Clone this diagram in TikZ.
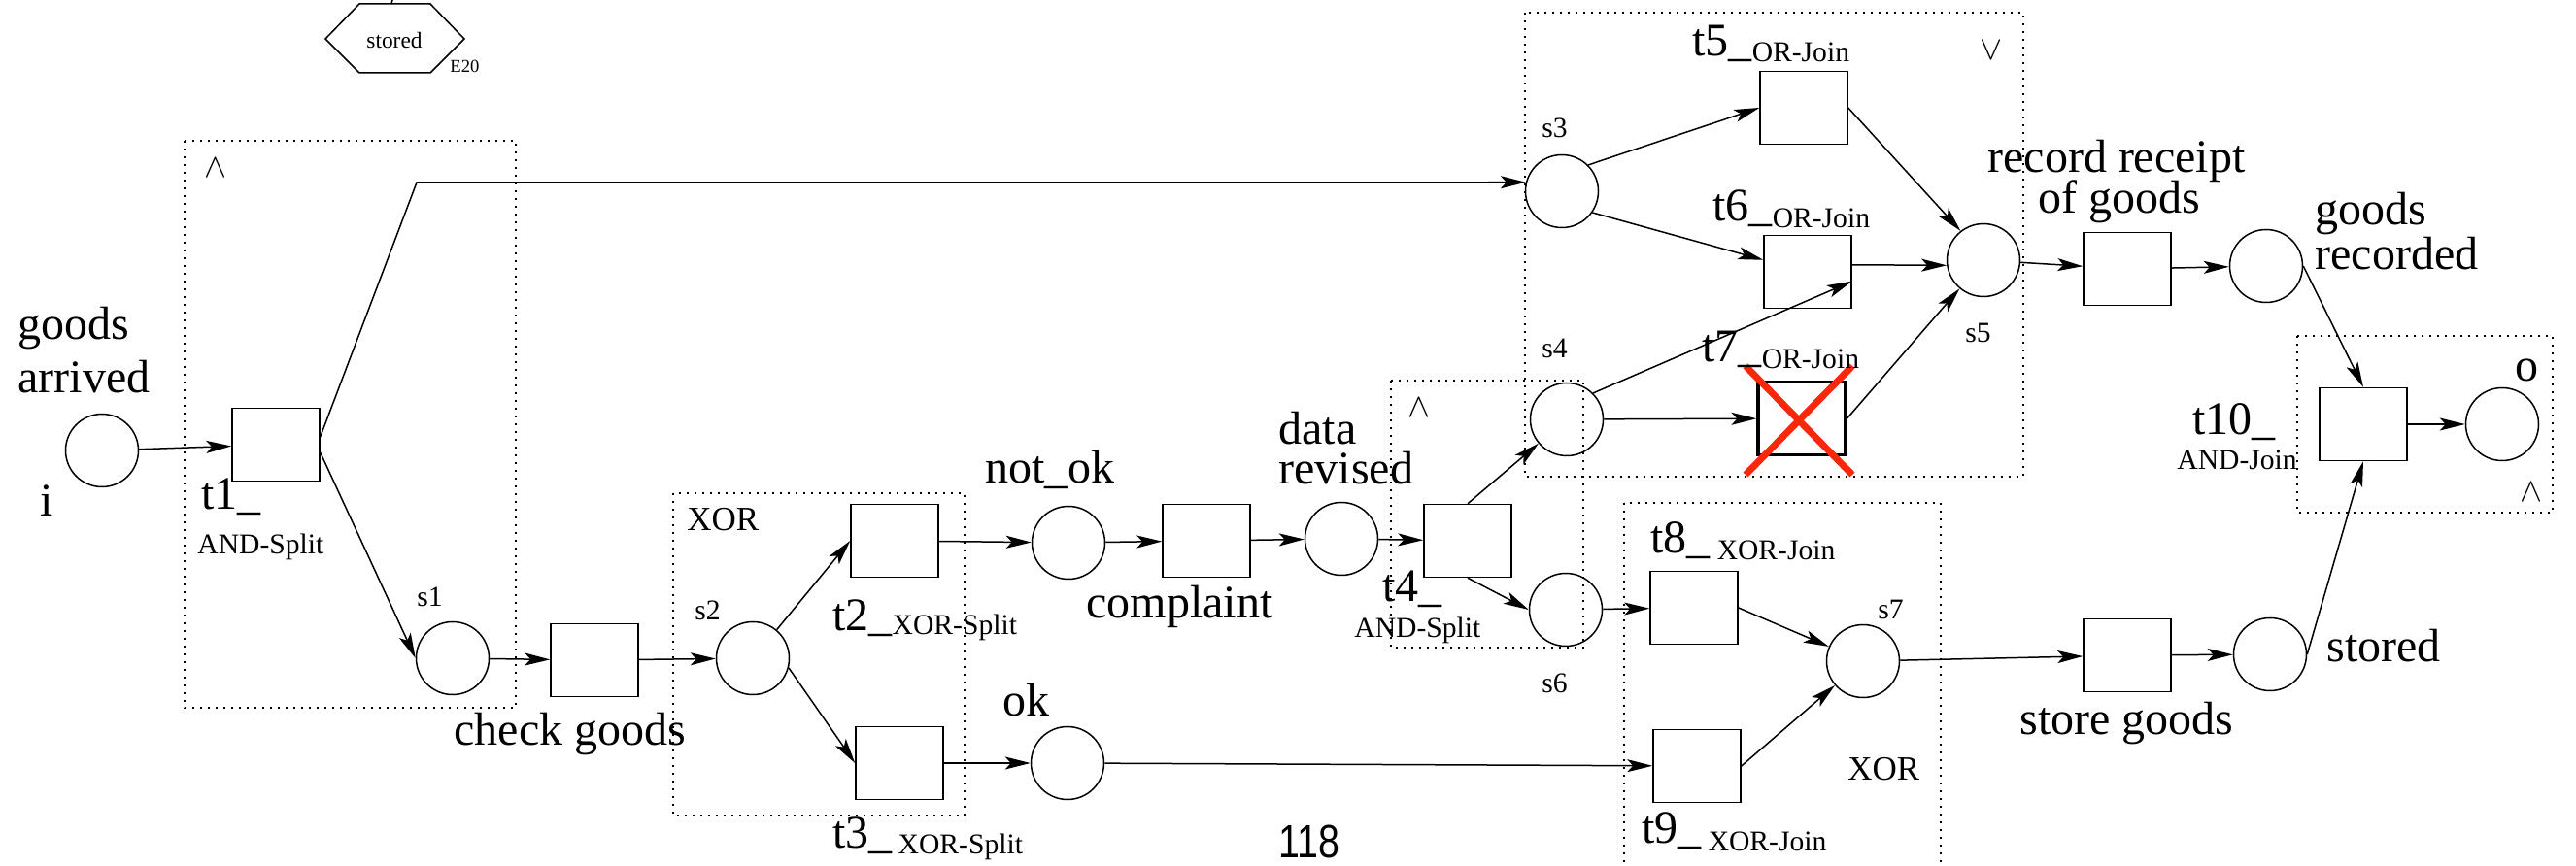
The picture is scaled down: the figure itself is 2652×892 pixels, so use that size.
\documentclass[tikz,border=0pt]{standalone}
\usepackage{fontspec}
\setmainfont{Liberation Serif}
\newfontfamily\pagenumfont{Liberation Sans}
\usetikzlibrary{arrows.meta}
\newcommand\lblsmall{\fontsize{14.8pt}{17pt}\selectfont}
\definecolor{crossred}{RGB}{250,40,10}
\tikzset{
  place/.style={draw, circle, line width=0.75pt, minimum size=37.5pt, inner sep=0pt},
  trans/.style={draw, rectangle, line width=0.75pt, minimum width=45pt, minimum height=37.5pt, inner sep=0pt},
  arc/.style={line width=0.75pt, -{Stealth[length=13pt, width=6.5pt, inset=3pt]}},
  plain/.style={line width=0.75pt},
  region/.style={line width=0.9pt, dash pattern=on 0.9pt off 3.1pt},
  biglbl/.style={font=\fontsize{24pt}{27pt}\selectfont, inner sep=0pt, anchor=base west},
  smalllbl/.style={font=\lblsmall, inner sep=0pt, anchor=base west},
  midlbl/.style={font=\fontsize{17.5pt}{20pt}\selectfont, inner sep=0pt, anchor=base west},
  opsym/.style={font=\fontsize{16pt}{18pt}\selectfont, inner sep=0pt},
}
\begin{document}
\begin{tikzpicture}[x=0.5pt, y=-0.5pt]
\useasboundingbox (0,0) rectangle (2652,892);
\fill[white] (0,0) rectangle (2652,892);
\clip (0,0) rectangle (2652,892);

% regions
\draw[region] (190,145) rectangle (531,729);
\draw[region] (693,508) rectangle (993,840);
\draw[region] (1432,392) rectangle (1630,667);
\draw[region] (1570,13) rectangle (2083,491);
\draw[region] (1672,518) rectangle (1998,920);
\draw[region] (2365,346) rectangle (2628,528);

% hexagon event
\node[inner sep=0pt, font=\fontsize{11.7pt}{13pt}\selectfont] (hex) at (406,42) {stored};
\draw[plain] (335,40) -- (370,4) -- (443,4) -- (478,40) -- (443,75) -- (370,75) -- cycle;
\draw[plain] (403,4) -- (405,-4);
\node[inner sep=0pt, anchor=base west, font=\fontsize{9.3pt}{11pt}\selectfont] (e20) at (463,75) {E20};

% places
\node[place] (i) at (105,464) {};
\node[place] (s1) at (466,678) {};
\node[place] (s2) at (775,678) {};
\node[place] (notok) at (1100,559) {};
\node[place] (datarev) at (1381,555) {};
\node[place] (ok) at (1099,786) {};
\node[place] (s3) at (1608,197) {};
\node[place] (s4) at (1613,432) {};
\node[place] (s6) at (1612,628) {};
\node[place] (s5) at (2042,268) {};
\node[place] (s7) at (1918,681) {};
\node[place] (goodsrec) at (2333,274) {};
\node[place] (stored) at (2337,674) {};
\node[place] (o) at (2576,437) {};

% transitions
\node[trans] (t1) at (284,458) {};
\node[trans] (check) at (612,680) {};
\node[trans] (t2) at (921,557) {};
\node[trans] (t3) at (926,786) {};
\node[trans] (complaint) at (1242,557) {};
\node[trans] (t4) at (1511,557) {};
\node[trans] (t5) at (1857,111) {};
\node[trans] (t6) at (1861,280) {};
\node[trans, line width=1.6pt] (t7) at (1855,431) {};
\node[trans] (t8) at (1744,626) {};
\node[trans] (t9) at (1747,789) {};
\node[trans] (record) at (2190,277) {};
\node[trans] (storeg) at (2190,675) {};
\node[trans] (t10) at (2433,437) {};

% connectors
\coordinate (bend) at (429,188);
\draw[arc] (i) -- (t1);
\draw[arc] (t1.10) -- (bend) -- (s3.166);
\draw[arc] (t1.-10) -- (s1.west);
\draw[arc] (s1) -- (check);
\draw[arc] (check) -- (s2);
\draw[arc] (s2.50) -- (t2.west);
\draw[arc] (s2.-15) -- (t3.west);
\draw[arc] (t2) -- (notok);
\draw[arc] (t3) -- (ok);
\draw[arc] (notok) -- (complaint);
\draw[arc] (complaint) -- (datarev);
\draw[arc] (datarev) -- (t4);
\draw[arc] (t4.north) -- (s4);
\draw[arc] (t4.south) -- (s6.west);
\draw[arc] (s6) -- (t8);
\draw[arc] (ok) -- (t9);
\draw[arc] (t8.east) -- (s7);
\draw[arc] (t9.east) -- (s7);
\draw[arc] (s7) -- (storeg);
\draw[arc] (storeg) -- (stored);
\draw[arc] (stored.east) -- (t10.south);
\draw[arc] (goodsrec.east) -- (t10.north);
\draw[arc] (t10) -- (o);
\draw[arc] (s5) -- (record);
\draw[arc] (record) -- (goodsrec);
\draw[arc] (s3.45) -- (t5.west);
\draw[arc] (s3.-35) -- (t6.165);
\draw[arc] (s4.45) -- (t6.-12);
\draw[arc] (s4) -- (t7);
\draw[arc] (t5.east) -- (s5.128);
\draw[arc] (t6.9) -- (s5.188);
\draw[arc] (t7.east) -- (s5.230);

% red cross over t7
\draw[crossred, line width=3.5pt] (1797,377) -- (1907,489);
\draw[crossred, line width=3.5pt] (1907,377) -- (1797,489);

% labels
\node[biglbl] (lga1) at (18,350) {goods};
\node[biglbl] (lga2) at (18,405) {arrived};
\node[biglbl] (li) at (41,532) {i};
\node[biglbl] (lt1) at (207,525) {t1\_};
\node[smalllbl] (lt1b) at (203,571) {AND-Split};
\node[smalllbl] (ls1) at (429,625) {s1};
\node[biglbl] (lcheck) at (467,768) {check goods};
\node[midlbl] (lxor1) at (707,547) {XOR};
\node[smalllbl] (ls2) at (715,639) {s2};
\node[biglbl] (lt2) at (857,650) {t2\_\raisebox{-2pt}{\lblsmall XOR-Split}};
\node[biglbl] (lt3) at (857,873) {t3\_\hspace{3pt}\raisebox{-3pt}{\lblsmall XOR-Split}};
\node[biglbl] (lnotok) at (1014,498) {not\_ok};
\node[biglbl] (lcompl) at (1118,637) {complaint};
\node[biglbl] (ldata1) at (1316,458) {data};
\node[biglbl] (ldata2) at (1316,499) {revised};
\node[biglbl] (lt4) at (1423,620) {t4\_};
\node[smalllbl] (lt4b) at (1394,657) {AND-Split};
\node[biglbl] (lok) at (1032,738) {ok};
\node[smalllbl] (ls3) at (1587,142) {s3};
\node[smalllbl] (ls4) at (1587,369) {s4};
\node[smalllbl] (ls6) at (1587,714) {s6};
\node[biglbl] (lt5) at (1742,58) {t5\_\raisebox{-3pt}{\lblsmall OR-Join}};
\node[biglbl] (lt6) at (1763,228) {t6\_\raisebox{-3.5pt}{\lblsmall OR-Join}};
\node[biglbl] (lt7) at (1752,373) {t7\_\raisebox{-3.5pt}{\lblsmall OR-Join}};
\node[biglbl] (lt8) at (1699,570) {t8\_\hspace{3.5pt}\raisebox{-3.5pt}{\lblsmall XOR-Join}};
\node[biglbl] (lt9) at (1690,868) {t9\_\hspace{3.5pt}\raisebox{-4.5pt}{\lblsmall XOR-Join}};
\node[smalllbl] (ls7) at (1933,638) {s7};
\node[midlbl] (lxor2) at (1902,804) {XOR};
\node[smalllbl] (ls5) at (2023,353) {s5};
\node[biglbl] (lrec1) at (2046,178) {record receipt};
\node[biglbl] (lrec2) at (2098,220) {of goods};
\node[biglbl] (lgr1) at (2383,232) {goods};
\node[biglbl] (lgr2) at (2383,278) {recorded};
\node[biglbl] (lo) at (2589,393) {o};
\node[biglbl] (lt10) at (2257,448) {t10\_};
\node[smalllbl] (lt10b) at (2241,484) {AND-Join};
\node[biglbl] (lstoreg) at (2079,757) {store goods};
\node[biglbl] (lstored) at (2395,682) {stored};

% operator symbols
\node[opsym] (and1) at (222,173) {$\wedge$};
\node[opsym] (and2) at (1461,420) {$\wedge$};
\node[opsym] (and3) at (2606,507) {$\wedge$};
\node[opsym] (or1) at (2050,52) {$\vee$};

% page number
\node[inner sep=0pt, font=\pagenumfont\fontsize{24pt}{26pt}\selectfont] (pagenum) at (1348,867) {\scalebox{0.82}[1]{118}};
\end{tikzpicture}
\end{document}
